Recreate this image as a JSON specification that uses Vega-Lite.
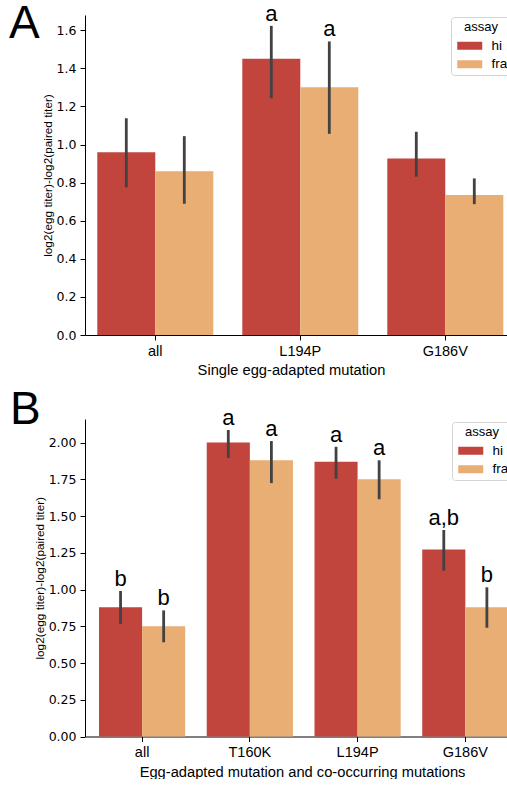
{
  "$schema": "https://vega.github.io/schema/vega-lite/v6.json",
  "padding": {"left": 9, "top": 1, "right": 0, "bottom": 0},
  "spacing": 9,
  "resolve": {
    "scale": {"xOffset": "independent", "x": "independent", "y": "independent"},
    "legend": {"color": "independent"}
  },
  "datasets": {
    "single": [
      {"mutation": "all", "assay": "hi", "mean": 0.960, "lower": 0.775, "upper": 1.138, "letter": ""},
      {"mutation": "all", "assay": "fra", "mean": 0.860, "lower": 0.689, "upper": 1.044, "letter": ""},
      {"mutation": "L194P", "assay": "hi", "mean": 1.450, "lower": 1.243, "upper": 1.623, "letter": "a"},
      {"mutation": "L194P", "assay": "fra", "mean": 1.301, "lower": 1.056, "upper": 1.541, "letter": "a"},
      {"mutation": "G186V", "assay": "hi", "mean": 0.927, "lower": 0.831, "upper": 1.067, "letter": ""},
      {"mutation": "G186V", "assay": "fra", "mean": 0.735, "lower": 0.687, "upper": 0.822, "letter": ""}
    ],
    "cooccurring": [
      {"mutation": "all", "assay": "hi", "mean": 0.879, "lower": 0.765, "upper": 0.990, "letter": "b"},
      {"mutation": "all", "assay": "fra", "mean": 0.750, "lower": 0.641, "upper": 0.858, "letter": "b"},
      {"mutation": "T160K", "assay": "hi", "mean": 2.000, "lower": 1.895, "upper": 2.085, "letter": "a"},
      {"mutation": "T160K", "assay": "fra", "mean": 1.879, "lower": 1.724, "upper": 2.010, "letter": "a"},
      {"mutation": "L194P", "assay": "hi", "mean": 1.870, "lower": 1.754, "upper": 1.971, "letter": "a"},
      {"mutation": "L194P", "assay": "fra", "mean": 1.750, "lower": 1.614, "upper": 1.879, "letter": "a"},
      {"mutation": "G186V", "assay": "hi", "mean": 1.273, "lower": 1.128, "upper": 1.405, "letter": "a,b"},
      {"mutation": "G186V", "assay": "fra", "mean": 0.879, "lower": 0.740, "upper": 1.015, "letter": "b"}
    ]
  },
  "config": {
    "view": {"stroke": null},
    "font": "Liberation Sans",
    "axis": {
      "domainColor": "black",
      "domainWidth": 1,
      "tickColor": "black",
      "tickWidth": 1,
      "tickSize": 5,
      "grid": false,
      "labelColor": "black",
      "titleColor": "black",
      "titleFontWeight": "normal",
      "labelPadding": 4,
      "labelOverlap": false
    },
    "axisX": {"labelFontSize": 14.5, "titleFontSize": 14.7, "labelAngle": 0, "titlePadding": 5},
    "axisY": {"labelFont": "DejaVu Sans", "labelFontSize": 12.5, "titleFontSize": 11.8, "titlePadding": 3},
    "legend": {
      "orient": "none",
      "fillColor": "white",
      "strokeColor": "#d4d4d4",
      "cornerRadius": 3,
      "padding": 4,
      "titleFontSize": 13,
      "titleFontWeight": "normal",
      "titleColor": "black",
      "titleAnchor": "middle",
      "labelFontSize": 13.5,
      "labelColor": "black",
      "symbolType": "M-2.5,-0.8H2.5V0.8H-2.5Z",
      "symbolSize": 100,
      "symbolStrokeWidth": 0,
      "symbolOffset": 8,
      "labelOffset": 15,
      "rowPadding": 3.5
    },
    "title": {"font": "Liberation Sans", "fontSize": 46, "fontWeight": "normal", "color": "black", "anchor": "start", "frame": "group"}
  },
  "vconcat": [
    {
      "title": {"text": "A", "dx": -76, "dy": 58.5, "baseline": "alphabetic", "offset": -23},
      "width": 435,
      "height": 320,
      "data": {"name": "single"},
      "encoding": {
        "x": {
          "field": "mutation", "type": "nominal", "sort": ["all", "L194P", "G186V"],
          "scale": {"paddingInner": 0.2, "paddingOuter": 0.1, "align": 0.424},
          "axis": {"title": "Single egg-adapted mutation", "titleX": 206}
        },
        "xOffset": {"field": "assay", "type": "nominal", "sort": ["hi", "fra"]}
      },
      "layer": [
        {
          "mark": {"type": "bar"},
          "encoding": {
            "y": {
              "field": "mean", "type": "quantitative",
              "scale": {"domain": [0, 1.68], "nice": false, "zero": true},
              "axis": {"title": "log2(egg titer)-log2(paired titer)", "values": [0, 0.2, 0.4, 0.6, 0.8, 1.0, 1.2, 1.4, 1.6], "tickCount": 12, "format": ".1f"}
            },
            "color": {
              "field": "assay", "type": "nominal",
              "scale": {"domain": ["hi", "fra"], "range": ["#c1443d", "#e9ae73"]},
              "legend": {"title": "assay", "legendX": 366, "legendY": 2}
            }
          }
        },
        {
          "mark": {"type": "rule", "color": "#424242", "strokeWidth": 2.8},
          "encoding": {
            "y": {"field": "lower", "type": "quantitative"},
            "y2": {"field": "upper"}
          }
        },
        {
          "transform": [{"filter": "datum.letter != ''"}],
          "mark": {"type": "text", "fontSize": 22, "baseline": "alphabetic", "dy": -5, "color": "black"},
          "encoding": {
            "y": {"field": "upper", "type": "quantitative"},
            "text": {"field": "letter"}
          }
        }
      ]
    },
    {
      "title": {"text": "B", "dx": -75, "dy": 58, "baseline": "alphabetic", "offset": -5},
      "width": 434,
      "height": 317.5,
      "data": {"name": "cooccurring"},
      "encoding": {
        "x": {
          "field": "mutation", "type": "nominal", "sort": ["all", "T160K", "L194P", "G186V"],
          "scale": {"paddingInner": 0.2, "paddingOuter": 0.114, "align": 0.57},
          "axis": {"title": "Egg-adapted mutation and co-occurring mutations"}
        },
        "xOffset": {"field": "assay", "type": "nominal", "sort": ["hi", "fra"]}
      },
      "layer": [
        {
          "mark": {"type": "bar"},
          "encoding": {
            "y": {
              "field": "mean", "type": "quantitative",
              "scale": {"domain": [0, 2.16], "nice": false, "zero": true},
              "axis": {"title": "log2(egg titer)-log2(paired titer)", "values": [0, 0.25, 0.5, 0.75, 1.0, 1.25, 1.5, 1.75, 2.0], "tickCount": 12, "format": ".2f"}
            },
            "color": {
              "field": "assay", "type": "nominal",
              "scale": {"domain": ["hi", "fra"], "range": ["#c1443d", "#e9ae73"]},
              "legend": {"title": "assay", "legendX": 367, "legendY": 3}
            }
          }
        },
        {
          "mark": {"type": "rule", "color": "#424242", "strokeWidth": 2.8},
          "encoding": {
            "y": {"field": "lower", "type": "quantitative"},
            "y2": {"field": "upper"}
          }
        },
        {
          "transform": [{"filter": "datum.letter != ''"}],
          "mark": {"type": "text", "fontSize": 22, "baseline": "alphabetic", "dy": -5, "color": "black"},
          "encoding": {
            "y": {"field": "upper", "type": "quantitative"},
            "text": {"field": "letter"}
          }
        }
      ]
    }
  ]
}
